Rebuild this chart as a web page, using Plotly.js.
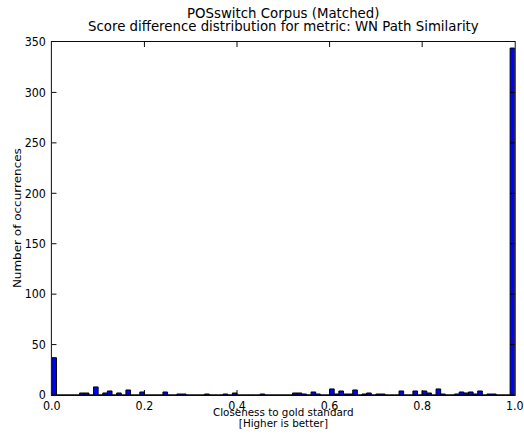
<!DOCTYPE html>
<html>
<head>
<meta charset="utf-8">
<script src="https://cdn.plot.ly/plotly-3.0.1.min.js"></script>
<style>
html,body{margin:0;padding:0;background:#fff;overflow:hidden;}
#wrap{width:524px;height:437px;overflow:hidden;}
#chart{width:566px;height:437px;transform:scale(0.92580,1);transform-origin:0 0;}
</style>
</head>
<body>
<div id="wrap"><div id="chart"></div></div>
<script>
// Histogram: 100 bins of width 0.01 over [0, 1]
var binStart = 0.0;
var binWidth = 0.01;
// counts per bin, bin 0 = [0.00, 0.01) ... bin 99 = [0.99, 1.00]
var counts = [
  37, 0, 0, 0, 0, 0, 2, 2, 0, 8,
  0, 2, 4, 0, 2, 0, 5, 0, 0, 3,
  0, 0, 0, 0, 3, 0, 0, 1, 1, 0,
  0, 0, 0, 1, 0, 0, 0, 1, 0, 2,
  0, 0, 0, 0, 0, 1, 0, 0, 0, 0,
  0, 0, 2, 2, 1, 0, 3, 1, 0, 0,
  6, 1, 4, 1, 1, 5, 0, 1, 2, 0,
  1, 1, 0, 0, 0, 4, 0, 0, 4, 0,
  4, 2, 0, 6, 1, 0, 0, 1, 3, 2,
  3, 1, 4, 0, 1, 1, 0, 0, 0, 344
];
var xTicks = [0.0, 0.2, 0.4, 0.6, 0.8, 1.0];
var yTicks = [0, 50, 100, 150, 200, 250, 300, 350];
var titleLines = ["POSswitch Corpus (Matched)", "Score difference distribution for metric: WN Path Similarity"];
var xLabelLines = ["Closeness to gold standard", "[Higher is better]"];
var yLabel = "Number of occurrences";

var centers = counts.map(function(_, i){ return binStart + (i + 0.5) * binWidth; });

var font = "DejaVu Sans, Bitstream Vera Sans, sans-serif";
var F = 12;
var FX = 11.2;
var FT = 14.4;
var trace = {
  type: "bar",
  x: centers,
  y: counts,
  width: binWidth,
  marker: {color: "#0000ff", line: {color: "#000000", width: 1}},
  hoverinfo: "x+y"
};
function ann(text, y, yshift, size) {
  return {text: text, xref: "paper", yref: "paper", x: 0.5, y: y, xanchor: "center",
          yanchor: "middle", yshift: yshift, showarrow: false,
          font: {family: font, size: size, color: "#000"}};
}
var layout = {
  width: 566, height: 437,
  margin: {l: 55.6, r: 10.3, t: 42, b: 42, pad: 0},
  paper_bgcolor: "#ffffff",
  plot_bgcolor: "#ffffff",
  showlegend: false,
  bargap: 0,
  annotations: [
    ann(titleLines[0], 1, 29.5, FT),
    ann(titleLines[1], 1, 16.5, FT),
    ann(xLabelLines[0], 0, -17.5, FX),
    ann(xLabelLines[1], 0, -28, FX),
    {text: yLabel, xref: "paper", yref: "paper", x: 0, y: 0.5, xanchor: "center", yanchor: "middle",
     xshift: -37.3, textangle: -90, showarrow: false, font: {family: font, size: F, color: "#000"}}
  ],
  xaxis: {
    range: [0, 1], tickvals: xTicks, ticktext: xTicks.map(function(v){return v.toFixed(1);}),
    ticks: "inside", ticklen: 5, tickwidth: 1, tickcolor: "#000", mirror: "ticks",
    showline: true, linecolor: "#000", linewidth: 1, showgrid: false, zeroline: false,
    ticklabeloverflow: "allow",
    tickfont: {family: font, size: F, color: "#000"}
  },
  yaxis: {
    range: [0, 350], tickvals: yTicks,
    ticks: "inside", ticklen: 5, tickwidth: 1, tickcolor: "#000", mirror: "ticks",
    showline: true, linecolor: "#000", linewidth: 1, showgrid: false, zeroline: false,
    ticklabelstandoff: 3,
    tickfont: {family: font, size: F, color: "#000"}
  }
};
Plotly.newPlot("chart", [trace], layout, {displayModeBar: false, staticPlot: true});
</script>
</body>
</html>
